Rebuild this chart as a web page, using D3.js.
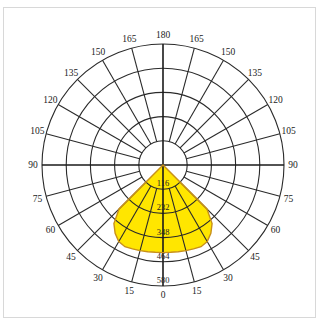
<!DOCTYPE html>
<html><head><meta charset="utf-8">
<script src="https://cdn.jsdelivr.net/npm/d3@7"></script>
<style>html,body{margin:0;padding:0;background:#fff;}svg{display:block;}</style>
</head><body>
<svg id="chart" width="320" height="320"></svg>
<script>
// Polar luminous intensity data (cd), symmetric about 0°
const angles = [0, 5, 10, 15, 20, 25, 30, 35, 40, 45, 50, 60, 70, 80, 90];
const intensity = [420, 420, 422, 425, 428, 432, 424, 400, 366, 298, 0, 0, 0, 0, 0];
const ringValues = [116, 232, 348, 464, 580];
const ringLabels = ["116", "232", "348", "464", "580"];
const angleTicks = [0, 15, 30, 45, 60, 75, 90, 105, 120, 135, 150, 165, 180];

const svg = d3.select("#chart");
const cx = 163, cy = 165, R = 121;
const r = d3.scaleLinear().domain([0, 580]).range([0, R]);
const toRad = d => d * Math.PI / 180;

// frame
svg.append("rect").attr("x", 3.5).attr("y", 7.5).attr("width", 312).attr("height", 310)
  .attr("fill", "#fff").attr("stroke", "#d8d8d8").attr("stroke-width", 1);

const g = svg.append("g").attr("transform", `translate(${cx},${cy})`);

// build closed polygon from -90 through 0 to +90
const pts = [];
for (let i = angles.length - 1; i >= 0; i--) pts.push({a: -angles[i], v: intensity[i]});
for (let i = 1; i < angles.length; i++) pts.push({a: angles[i], v: intensity[i]});
const radial = d3.lineRadial()
  .angle(d => Math.PI - toRad(d.a))
  .radius(d => r(d.v))
  .curve(d3.curveLinearClosed);

g.append("path").attr("d", radial(pts)).attr("fill", "#ffe600").attr("stroke", "none");

// grid rings
g.selectAll("circle.ring").data(ringValues).join("circle")
  .attr("class", "ring").attr("r", d => r(d))
  .attr("fill", "none").attr("stroke", "#2a2a2a").attr("stroke-width", 1.1);

// radial lines every 15°
const spokes = d3.range(0, 360, 15).filter(d => d % 90 !== 0);
g.selectAll("line.spoke").data(spokes).join("line")
  .attr("class", "spoke")
  .attr("x1", d => r(ringValues[0]) * Math.sin(toRad(d)))
  .attr("y1", d => r(ringValues[0]) * Math.cos(toRad(d)))
  .attr("x2", d => R * Math.sin(toRad(d)))
  .attr("y2", d => R * Math.cos(toRad(d)))
  .attr("stroke", "#2a2a2a").attr("stroke-width", 1.1);

// main axes
g.append("line").attr("x1", -R).attr("x2", R).attr("y1", 0).attr("y2", 0)
  .attr("stroke", "#1a1a1a").attr("stroke-width", 1.6);
g.append("line").attr("x1", 0).attr("x2", 0).attr("y1", -R).attr("y2", R)
  .attr("stroke", "#1a1a1a").attr("stroke-width", 1.6);

// outline
g.append("path").attr("d", radial(pts)).attr("fill", "none")
  .attr("stroke", "#c8901a").attr("stroke-width", 1.4);

// ring labels
g.selectAll("text.rl").data(ringValues).join("text")
  .attr("class", "rl").attr("x", 0).attr("y", d => r(d) - 3)
  .attr("text-anchor", "middle")
  .attr("font-family", "Liberation Serif, serif").attr("font-size", 8.5)
  .attr("fill", "#222")
  .text((d, i) => ringLabels[i]);

// angle labels both sides
const LR = R + 9;
const labelData = [];
angleTicks.forEach(a => {
  labelData.push({a: a, side: 1});
  if (a !== 0 && a !== 180) labelData.push({a: a, side: -1});
});
g.selectAll("text.al").data(labelData).join("text")
  .attr("class", "al")
  .attr("x", d => d.side * LR * Math.sin(toRad(d.a)))
  .attr("y", d => LR * Math.cos(toRad(d.a)))
  .attr("text-anchor", "middle").attr("dominant-baseline", "central")
  .attr("font-family", "Liberation Serif, serif").attr("font-size", 9.5)
  .attr("fill", "#222")
  .text(d => d.a);
</script>
</body></html>
